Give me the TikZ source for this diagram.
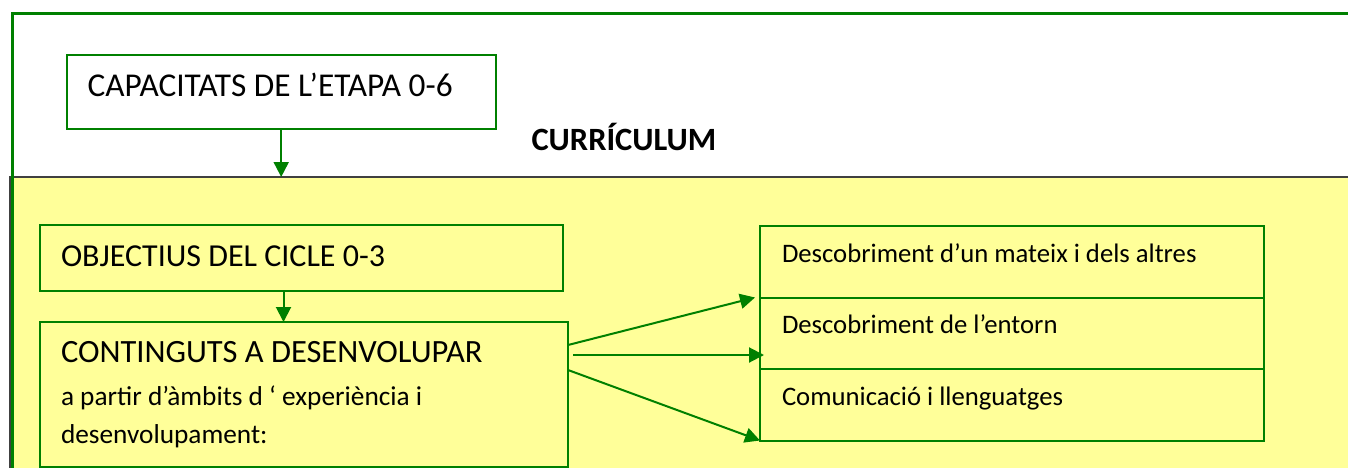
\documentclass[tikz,border=0pt]{standalone}
\usepackage{fontspec}
\setmainfont{Carlito}
\usetikzlibrary{positioning,arrows.meta}
\definecolor{boxgreen}{RGB}{0,128,0}
\definecolor{paleyellow}{RGB}{255,255,153}
\newcommand{\capsize}{\fontsize{32.5}{38}\selectfont}
\newcommand{\txtsize}{\fontsize{26.7}{32}\selectfont}
\tikzset{line/.style={draw=boxgreen, line width=2pt, -{Triangle[length=15pt,width=15pt]}}}

\begin{document}
\begin{tikzpicture}[x=1pt, y=-1pt, main/.style = {draw=boxgreen, line width=2pt, rectangle, outer sep=0pt, inner ysep=0pt, align=left, execute at begin node={\spaceskip=0pt\xspaceskip=0pt}}]
\useasboundingbox (0,0) rectangle (1348,468);
\clip (0,0) rectangle (1348,468);
% yellow panel and outer frame
\node[fill=paleyellow, draw=black!75, line width=2pt, outer sep=0pt, anchor=north west, minimum width=1400pt, minimum height=320pt] (panel) at (9.5,177) {};
\draw[boxgreen, line width=3pt] (12.7,480) -- (12.7,14) -- (1360,14);
\node[main, font=\fontsize{33.3}{38}\selectfont, anchor=north west, inner xsep=21pt, text width=387pt, text height=42pt, text depth=32pt] (cap) at (66.7,55) {CAPACITATS DE L’ETAPA 0-6};
\node[anchor=base west, font=\capsize\bfseries] (curr) at (528,150) {CURRÍCULUM};
\node[main, font=\fontsize{32}{38}\selectfont, anchor=north west, inner xsep=21pt, text width=481pt, text height=41pt, text depth=25pt] (obj) at (40,225) {OBJECTIUS DEL CICLE 0-3};
\node[main, anchor=north west, inner xsep=21pt, text width=486pt] (cont) at (40,322) {\offinterlineskip
{\capsize\rule[-10pt]{0pt}{50pt}CONTINGUTS A DESENVOLUPAR}\\
{\fontsize{27.3}{32}\selectfont\rule[-10pt]{0pt}{43pt}a partir d’àmbits d ‘ experiència i}\\
{\fontsize{27.3}{32}\selectfont\rule[-24pt]{0pt}{51pt}desenvolupament:}};
% ambits
\node[main, font=\txtsize, anchor=north west, inner xsep=22pt, text width=460pt, text height=36pt, text depth=35.5pt] (amb1) at (760,226) {Descobriment d’un mateix i dels altres};
\node[main, font=\txtsize, inner xsep=22pt, text width=460pt, text height=36pt, text depth=35.5pt] (amb2) [below=0pt of amb1] {Descobriment de l’entorn};
\node[main, font=\txtsize, inner xsep=22pt, text width=460pt, text height=36pt, text depth=35.5pt] (amb3) [below=0pt of amb2] {Comunicació i llenguatges};
\coordinate (o1) at ([xshift=-18pt]obj.south);
\draw[line] (cap.south) -- (cap.south |- panel.north);
\draw[line] (o1) -- (o1 |- cont.north);
\draw[line] ([yshift=-23pt]cont.north east) -- ([xshift=-5pt]amb1.south west);
\draw[line] ([xshift=5pt,yshift=-33pt]cont.north east) -- ([xshift=4pt,yshift=14pt]amb2.south west);
\draw[line] ([yshift=-48pt]cont.north east) -- (amb3.south west);
\end{tikzpicture}
\end{document}
